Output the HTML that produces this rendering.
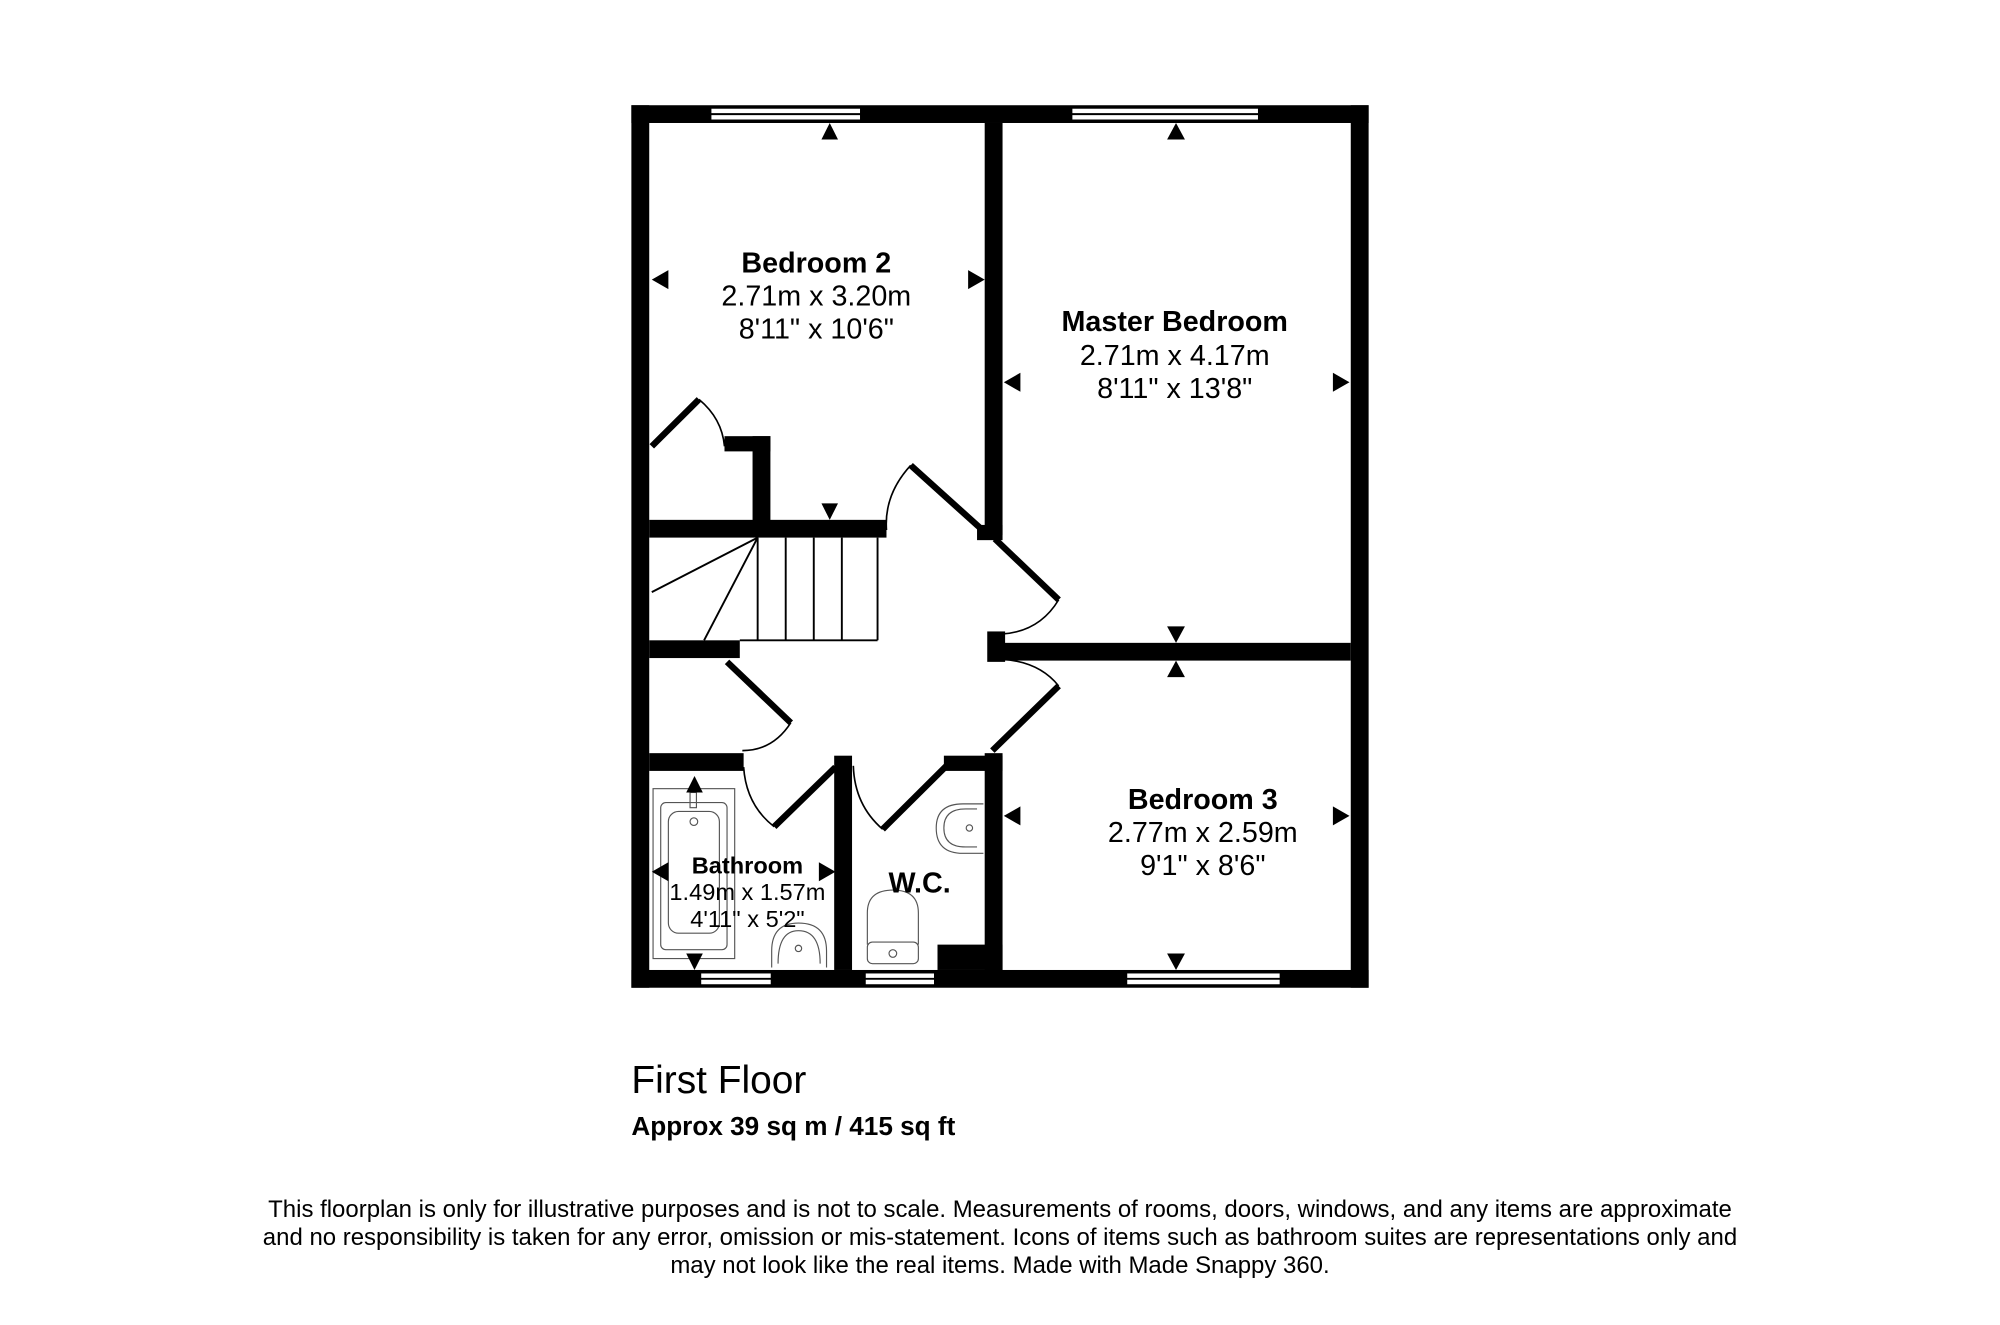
<!DOCTYPE html>
<html><head><meta charset="utf-8"><style>
html,body{margin:0;padding:0;background:#fff;}
svg{display:block;}
text{font-family:"Liberation Sans",Arial,sans-serif;fill:#000;}
</style></head><body>
<svg width="2000" height="1325" viewBox="0 0 1568 1045" preserveAspectRatio="none" xmlns="http://www.w3.org/2000/svg">
<rect width="1568" height="1045" fill="#fff"/>
<g fill="#000">
<rect x="495" y="83" width="578" height="14"/>
<rect x="495" y="765" width="578" height="14"/>
<rect x="495" y="83" width="14" height="696"/>
<rect x="1059" y="83" width="14" height="696"/>
<rect x="772" y="97" width="14" height="325"/>
<rect x="766" y="414" width="20" height="12"/>
<rect x="774" y="498" width="14" height="24"/>
<rect x="786" y="507" width="273" height="14"/>
<rect x="772" y="594" width="14" height="171"/>
<rect x="509" y="410" width="186" height="14"/>
<rect x="590" y="344" width="14" height="70"/>
<rect x="568" y="344" width="36" height="12"/>
<rect x="509" y="505" width="71" height="14"/>
<rect x="509" y="594" width="74" height="14"/>
<rect x="654" y="596" width="14" height="169"/>
<rect x="740" y="596" width="46" height="12"/>
<rect x="735" y="745" width="51" height="20"/>
</g>
<g fill="#fff" stroke="#000" stroke-width="1.5">
<rect x="557" y="85" width="118" height="10"/>
<rect x="840" y="85" width="147" height="10"/>
<rect x="549" y="767" width="56" height="10"/>
<rect x="678" y="767" width="55" height="10"/>
<rect x="883" y="767" width="121" height="10"/>
</g>
<g stroke="#000" stroke-width="1.5">
<line x1="557" y1="90" x2="675" y2="90"/><line x1="840" y1="90" x2="987" y2="90"/>
<line x1="549" y1="772" x2="605" y2="772"/><line x1="678" y1="772" x2="733" y2="772"/><line x1="883" y1="772" x2="1004" y2="772"/>
</g>
<g stroke="#000" stroke-width="1.5" fill="none">
<line x1="594" y1="424" x2="594" y2="505"/>
<line x1="616" y1="424" x2="616" y2="505"/>
<line x1="638" y1="424" x2="638" y2="505"/>
<line x1="660" y1="424" x2="660" y2="505"/>
<line x1="688" y1="424" x2="688" y2="505"/>
<line x1="580" y1="505" x2="688" y2="505"/>
<line x1="594" y1="424" x2="511" y2="467"/>
<line x1="594" y1="424" x2="552" y2="505"/>
</g>
<g stroke="#000" stroke-width="5" fill="none">
<line x1="511" y1="352" x2="548" y2="315"/>
<line x1="768" y1="416" x2="714" y2="367"/>
<line x1="780" y1="425" x2="830" y2="473"/>
<line x1="830" y1="541" x2="778" y2="592"/>
<line x1="570" y1="522" x2="620" y2="570"/>
<line x1="655" y1="605" x2="607" y2="652"/>
<line x1="742" y1="604" x2="692" y2="654"/>
</g>
<g stroke="#000" stroke-width="1.3" fill="none">
<path d="M548 315 Q566 330 568 352"/>
<path d="M714 367 Q693 390 695 418"/>
<path d="M830 473 Q815 498 786 500"/>
<path d="M786 520 Q815 522 830 541"/>
<path d="M620 570 Q606 592 582 592"/>
<path d="M583 605 Q585 635 607 652"/>
<path d="M669 604 Q670 635 692 654"/>
</g>
<g stroke="#555" stroke-width="0.9" fill="none">
<rect x="512" y="622" width="64" height="134"/>
<rect x="518" y="633" width="52" height="116" rx="4"/>
<rect x="524" y="640" width="40" height="96" rx="8"/>
<circle cx="544" cy="648" r="3"/>
<rect x="541" y="625" width="5" height="12"/>
<path d="M605 763 L605 750 Q605 728 626 728 Q648 728 648 750 L648 763"/>
<path d="M610 760 Q610 734 626 734 Q643 734 643 760"/>
<circle cx="626" cy="748" r="2.5"/>
<path d="M771 634 L755 634 Q734 634 734 653 Q734 673 755 673 L771 673"/>
<path d="M766 638 L757 638 Q740 638 740 653 Q740 668 757 668 L766 668"/>
<circle cx="760" cy="653" r="2.5"/>
<path d="M680 745 L680 720 Q680 702 700 702 Q720 702 720 720 L720 745"/>
<rect x="680" y="743" width="40" height="17" rx="4"/>
<circle cx="700" cy="752" r="3"/>
</g>
<g fill="#000">
<path d="M644 110 L657 110 L650.5 97Z"/>
<path d="M915 110 L929 110 L922 97Z"/>
<path d="M524 213 L524 228 L511 220.5Z"/>
<path d="M759 213 L759 228 L772 220.5Z"/>
<path d="M800 294 L800 309 L787 301.5Z"/>
<path d="M1045 294 L1045 309 L1058 301.5Z"/>
<path d="M644 397 L657 397 L650.5 410Z"/>
<path d="M915 494 L929 494 L922 507Z"/>
<path d="M915 534 L929 534 L922 521Z"/>
<path d="M800 636 L800 651 L787 643.5Z"/>
<path d="M1045 636 L1045 651 L1058 643.5Z"/>
<path d="M915 752 L929 752 L922 765Z"/>
<path d="M538 625 L551 625 L544.5 612Z"/>
<path d="M538 752 L551 752 L544.5 765Z"/>
<path d="M524 680 L524 695 L511 687.5Z"/>
<path d="M642 680 L642 695 L655 687.5Z"/>
</g>
<g text-anchor="middle" font-size="22.5">
<text x="640" y="215" font-weight="bold">Bedroom 2</text>
<text x="640" y="241">2.71m x 3.20m</text>
<text x="640" y="267">8'11" x 10'6"</text>
<text x="921" y="261" font-weight="bold">Master Bedroom</text>
<text x="921" y="288">2.71m x 4.17m</text>
<text x="921" y="314">8'11" x 13'8"</text>
<text x="943" y="638" font-weight="bold">Bedroom 3</text>
<text x="943" y="664">2.77m x 2.59m</text>
<text x="943" y="690">9'1" x 8'6"</text>
<text x="721" y="704" font-weight="bold">W.C.</text>
<text x="586" y="689" font-size="18.5" font-weight="bold">Bathroom</text>
<text x="586" y="710" font-size="18.5">1.49m x 1.57m</text>
<text x="586" y="731" font-size="18.5">4'11" x 5'2"</text>
</g>
<text x="495" y="862" font-size="30.5">First Floor</text>
<text x="495" y="895" font-size="20.5" font-weight="bold">Approx 39 sq m / 415 sq ft</text>
<g text-anchor="middle" font-size="18.8">
<text x="784" y="960">This floorplan is only for illustrative purposes and is not to scale. Measurements of rooms, doors, windows, and any items are approximate</text>
<text x="784" y="982">and no responsibility is taken for any error, omission or mis-statement. Icons of items such as bathroom suites are representations only and</text>
<text x="784" y="1004">may not look like the real items. Made with Made Snappy 360.</text>
</g>
</svg>
</body></html>
